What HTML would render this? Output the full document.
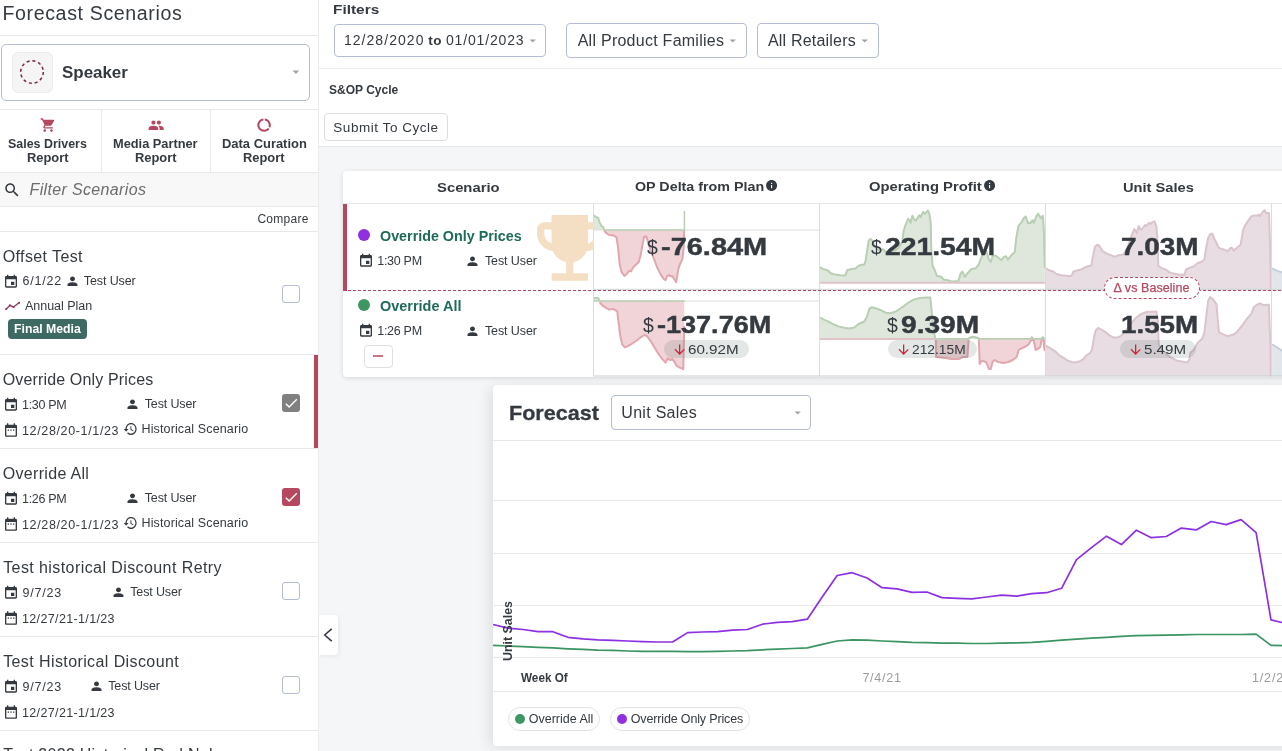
<!DOCTYPE html>
<html><head><meta charset="utf-8"><title>Forecast Scenarios</title>
<style>
html,body{margin:0;padding:0}
body{width:1282px;height:751px;overflow:hidden;position:relative;background:#f5f6f8;font-family:"Liberation Sans",sans-serif;color:#343a40}
.t{position:absolute;white-space:nowrap;line-height:1}
.b{position:absolute;box-sizing:border-box}
svg{position:absolute;overflow:visible}
#wrap{position:absolute;left:0;top:0;width:1282px;height:751px;overflow:hidden;will-change:transform}
</style></head><body><div id="wrap">
<div class="b" style="left:0.00px;top:0.00px;width:318.00px;height:751.00px;background:#fff;"></div>
<div class="b" style="left:318.00px;top:0.00px;width:1.00px;height:751.00px;background:#ebebeb;"></div>
<div class="t" style="left:2.43px;top:4px;font-size:19.6px;color:#343a40;letter-spacing:0.623px;">Forecast Scenarios</div>
<div class="b" style="left:0.00px;top:35.00px;width:318.00px;height:1.00px;background:#e9e9e9;"></div>
<div class="b" style="left:1.00px;top:44.00px;width:309.00px;height:56.50px;border:1px solid #b3bcd2;border-radius:5px;background:#fff;"></div>
<div class="b" style="left:12.00px;top:52.00px;width:41.00px;height:40.50px;border:1px solid #ececec;border-radius:6px;background:#f5f5f5;"></div>
<svg style="left:20px;top:60px" width="24" height="24" viewBox="0 0 24 24"><circle cx="12" cy="12" r="11.3" fill="none" stroke="#7a2840" stroke-width="1.5" stroke-dasharray="3.1 2.82"/></svg>
<div class="t" style="left:62.49px;top:65px;font-size:16px;font-weight:700;color:#343a40;transform:scaleX(1.0579);transform-origin:0 0;">Speaker</div>
<svg style="left:287.68px;top:64.40px" width="15.84" height="15.84" viewBox="0 0 24 24" preserveAspectRatio="none"><path fill="#a4a4a4" d="M7 10l5 5 5-5z"/></svg>
<div class="b" style="left:0.00px;top:109.00px;width:318.00px;height:1.00px;background:#e9e9e9;"></div>
<div class="t" style="left:8.33px;top:138px;font-size:12px;font-weight:700;color:#343a40;transform:scaleX(1.0367);transform-origin:0 0;">Sales Drivers</div>
<div class="t" style="left:26.55px;top:152px;font-size:12px;font-weight:700;color:#343a40;transform:scaleX(1.0748);transform-origin:0 0;">Report</div>
<div class="t" style="left:113.40px;top:138px;font-size:12px;font-weight:700;color:#343a40;transform:scaleX(1.0660);transform-origin:0 0;">Media Partner</div>
<div class="t" style="left:134.85px;top:152px;font-size:12px;font-weight:700;color:#343a40;transform:scaleX(1.0748);transform-origin:0 0;">Report</div>
<div class="t" style="left:221.79px;top:138px;font-size:12px;font-weight:700;color:#343a40;transform:scaleX(1.0783);transform-origin:0 0;">Data Curation</div>
<div class="t" style="left:243.15px;top:152px;font-size:12px;font-weight:700;color:#343a40;transform:scaleX(1.0748);transform-origin:0 0;">Report</div>
<svg style="left:39.82px;top:116.95px" width="16.23" height="16.23" viewBox="0 0 24 24" preserveAspectRatio="none"><path fill="#b5485f" d="M7 18c-1.1 0-1.99.9-1.99 2S5.9 22 7 22s2-.9 2-2-.9-2-2-2zM1 2v2h2l3.6 7.59-1.35 2.45c-.16.28-.25.61-.25.96 0 1.1.9 2 2 2h12v-2H7.42c-.14 0-.25-.11-.25-.25l.03-.12.9-1.63h7.45c.75 0 1.41-.41 1.75-1.03l3.58-6.49c.08-.14.12-.31.12-.48 0-.55-.45-1-1-1H5.21l-.94-2H1zm16 16c-1.1 0-1.99.9-1.99 2s.89 2 1.99 2 2-.9 2-2-.9-2-2-2z"/></svg>
<svg style="left:147.82px;top:117.39px" width="16.36" height="16.36" viewBox="0 0 24 24" preserveAspectRatio="none"><path fill="#b5485f" d="M16 11c1.66 0 2.99-1.34 2.99-3S17.66 5 16 5c-1.66 0-3 1.34-3 3s1.34 3 3 3zm-8 0c1.66 0 2.99-1.34 2.99-3S9.66 5 8 5C6.34 5 5 6.34 5 8s1.34 3 3 3zm0 2c-2.33 0-7 1.17-7 3.5V19h14v-2.5c0-2.33-4.67-3.5-7-3.5zm8 0c-.29 0-.62.02-.97.05 1.16.84 1.97 1.97 1.97 3.45V19h6v-2.5c0-2.33-4.67-3.5-7-3.5z"/></svg>
<svg style="left:256.15px;top:116.95px" width="16.20" height="16.20" viewBox="0 0 24 24" preserveAspectRatio="none"><path fill="#b5485f" d="M13 2.05v3.03c3.39.49 6 3.39 6 6.92 0 .9-.18 1.75-.48 2.54l2.6 1.53c.56-1.24.88-2.62.88-4.07 0-5.18-3.95-9.45-9-9.95zM12 19c-3.87 0-7-3.13-7-7 0-3.53 2.61-6.43 6-6.92V2.05c-5.06.5-9 4.76-9 9.95 0 5.52 4.47 10 9.99 10 3.31 0 6.24-1.61 8.06-4.09l-2.6-1.53C16.17 17.98 14.21 19 12 19z"/></svg>
<div class="b" style="left:101.00px;top:110.00px;width:1.00px;height:62.00px;background:#e9e9e9;"></div>
<div class="b" style="left:210.00px;top:110.00px;width:1.00px;height:62.00px;background:#e9e9e9;"></div>
<div class="b" style="left:0.00px;top:172.00px;width:318.00px;height:35.00px;background:#f8f8f8;border-top:1px solid #e9e9e9;border-bottom:1px solid #e9e9e9;"></div>
<svg style="left:3.14px;top:181.14px" width="18.10" height="18.10" viewBox="0 0 24 24" preserveAspectRatio="none"><path fill="#343a40" d="M15.5 14h-.79l-.28-.27C15.41 12.59 16 11.11 16 9.5 16 5.91 13.09 3 9.5 3S3 5.91 3 9.5 5.91 16 9.5 16c1.61 0 3.09-.59 4.23-1.57l.27.28v.79l5 4.99L20.49 19l-4.99-5zm-6 0C7.01 14 5 11.99 5 9.5S7.01 5 9.5 5 14 7.01 14 9.5 11.99 14 9.5 14z"/></svg>
<div class="t" style="left:29.52px;top:182px;font-size:16px;font-style:italic;color:#6c6c6c;letter-spacing:0.353px;">Filter Scenarios</div>
<div class="t" style="left:257.40px;top:213px;font-size:12px;color:#343a40;letter-spacing:0.293px;">Compare</div>
<div class="b" style="left:0.00px;top:231.00px;width:318.00px;height:1.00px;background:#e9e9e9;"></div>
<div class="t" style="left:2.70px;top:249px;font-size:16px;color:#343a40;letter-spacing:0.396px;">Offset Test</div>
<svg style="left:3.00px;top:274.35px" width="16.00" height="15.60" viewBox="0 0 24 24" preserveAspectRatio="none"><path fill="#343a40" d="M17 12h-5v5h5v-5zM16 1v2H8V1H6v2H5c-1.11 0-1.99.9-1.99 2L3 19c0 1.1.89 2 2 2h14c1.1 0 2-.9 2-2V5c0-1.1-.9-2-2-2h-1V1h-2zm3 18H5V8h14v11z"/></svg>
<div class="t" style="left:22.38px;top:275px;font-size:12.5px;color:#343a40;letter-spacing:0.800px;">6/1/22</div>
<svg style="left:64.50px;top:273.93px" width="15.00" height="14.25" viewBox="0 0 24 24" preserveAspectRatio="none"><path fill="#343a40" d="M12 12c2.21 0 4-1.79 4-4s-1.79-4-4-4-4 1.79-4 4 1.79 4 4 4zm0 2c-2.67 0-8 1.34-8 4v2h16v-2c0-2.66-5.33-4-8-4z"/></svg>
<div class="t" style="left:83.75px;top:275px;font-size:12.5px;color:#343a40;letter-spacing:-0.097px;">Test User</div>
<svg style="left:0;top:0" width="40" height="330" viewBox="0 0 40 330"><polyline points="6.2,309.1 9.9,305.4 13.6,307 19,302.8" fill="none" stroke="#8f3d62" stroke-width="1.4" stroke-linejoin="round" stroke-linecap="round"/><circle cx="6.2" cy="309.1" r="1.1" fill="#8f3d62"/><circle cx="9.9" cy="305.4" r="1.1" fill="#8f3d62"/><circle cx="13.6" cy="307" r="1.1" fill="#8f3d62"/><circle cx="19" cy="302.8" r="1.1" fill="#8f3d62"/></svg>
<div class="t" style="left:25.00px;top:300px;font-size:12.5px;color:#343a40;letter-spacing:-0.022px;">Annual Plan</div>
<div class="b" style="left:8.00px;top:319.00px;width:79.00px;height:20.00px;background:#3d6b63;border-radius:4px;"></div>
<div class="t" style="left:13.64px;top:323px;font-size:12px;font-weight:700;color:#fff;transform:scaleX(1.0223);transform-origin:0 0;">Final Media</div>
<div class="b" style="left:282.00px;top:285.00px;width:18.00px;height:18.00px;border:1px solid #b3bcd2;border-radius:3px;background:#fff;"></div>
<div class="b" style="left:0.00px;top:354.00px;width:318.00px;height:1.00px;background:#e9e9e9;"></div>
<div class="t" style="left:2.70px;top:372px;font-size:16px;color:#343a40;letter-spacing:0.154px;">Override Only Prices</div>
<svg style="left:3.00px;top:397.35px" width="16.00" height="15.60" viewBox="0 0 24 24" preserveAspectRatio="none"><path fill="#343a40" d="M17 12h-5v5h5v-5zM16 1v2H8V1H6v2H5c-1.11 0-1.99.9-1.99 2L3 19c0 1.1.89 2 2 2h14c1.1 0 2-.9 2-2V5c0-1.1-.9-2-2-2h-1V1h-2zm3 18H5V8h14v11z"/></svg>
<div class="t" style="left:22.00px;top:399px;font-size:12.5px;color:#343a40;letter-spacing:-0.300px;">1:30 PM</div>
<svg style="left:125.00px;top:396.93px" width="15.00" height="14.25" viewBox="0 0 24 24" preserveAspectRatio="none"><path fill="#343a40" d="M12 12c2.21 0 4-1.79 4-4s-1.79-4-4-4-4 1.79-4 4 1.79 4 4 4zm0 2c-2.67 0-8 1.34-8 4v2h16v-2c0-2.66-5.33-4-8-4z"/></svg>
<div class="t" style="left:144.75px;top:398px;font-size:12.5px;color:#343a40;letter-spacing:-0.134px;">Test User</div>
<svg style="left:3.00px;top:421.65px" width="16.00" height="16.20" viewBox="0 0 24 24" preserveAspectRatio="none"><path fill="#343a40" d="M9 11H7v2h2v-2zm4 0h-2v2h2v-2zm4 0h-2v2h2v-2zm2-7h-1V2h-2v2H8V2H6v2H5c-1.11 0-1.99.9-1.99 2L3 20c0 1.1.89 2 2 2h14c1.1 0 2-.9 2-2V6c0-1.1-.9-2-2-2zm0 16H5V9h14v11z"/></svg>
<div class="t" style="left:22.00px;top:425px;font-size:12.5px;color:#343a40;letter-spacing:0.643px;">12/28/20-1/1/23</div>
<svg style="left:123.38px;top:421.00px" width="14.86" height="16.00" viewBox="0 0 24 24" preserveAspectRatio="none"><path fill="#343a40" d="M13 3c-4.97 0-9 4.03-9 9H1l3.89 3.89.07.14L9 12H6c0-3.87 3.13-7 7-7s7 3.13 7 7-3.13 7-7 7c-1.93 0-3.68-.79-4.94-2.06l-1.42 1.42C8.27 19.99 10.51 21 13 21c4.97 0 9-4.03 9-9s-4.03-9-9-9zm-1 5v5l4.28 2.54.72-1.21-3.5-2.08V8H12z"/></svg>
<div class="t" style="left:141.50px;top:423px;font-size:12.5px;color:#343a40;letter-spacing:0.132px;">Historical Scenario</div>
<div class="b" style="left:282.00px;top:394.00px;width:18.00px;height:18.00px;border-radius:3px;background:#808080;"></div>
<svg style="left:282.68px;top:394.68px" width="16.36" height="16.36" viewBox="0 0 24 24" preserveAspectRatio="none"><path fill="#fff" d="M9 16.17L4.83 12l-1.42 1.41L9 19 21 7l-1.41-1.41z"/></svg>
<div class="b" style="left:0.00px;top:448.00px;width:318.00px;height:1.00px;background:#e9e9e9;"></div>
<div class="b" style="left:314.00px;top:355.00px;width:4.00px;height:93.00px;background:#b5485f;"></div>
<div class="t" style="left:2.70px;top:466px;font-size:16px;color:#343a40;letter-spacing:0.322px;">Override All</div>
<svg style="left:3.00px;top:491.35px" width="16.00" height="15.60" viewBox="0 0 24 24" preserveAspectRatio="none"><path fill="#343a40" d="M17 12h-5v5h5v-5zM16 1v2H8V1H6v2H5c-1.11 0-1.99.9-1.99 2L3 19c0 1.1.89 2 2 2h14c1.1 0 2-.9 2-2V5c0-1.1-.9-2-2-2h-1V1h-2zm3 18H5V8h14v11z"/></svg>
<div class="t" style="left:22.00px;top:493px;font-size:12.5px;color:#343a40;letter-spacing:-0.300px;">1:26 PM</div>
<svg style="left:125.00px;top:490.93px" width="15.00" height="14.25" viewBox="0 0 24 24" preserveAspectRatio="none"><path fill="#343a40" d="M12 12c2.21 0 4-1.79 4-4s-1.79-4-4-4-4 1.79-4 4 1.79 4 4 4zm0 2c-2.67 0-8 1.34-8 4v2h16v-2c0-2.66-5.33-4-8-4z"/></svg>
<div class="t" style="left:144.75px;top:492px;font-size:12.5px;color:#343a40;letter-spacing:-0.134px;">Test User</div>
<svg style="left:3.00px;top:515.65px" width="16.00" height="16.20" viewBox="0 0 24 24" preserveAspectRatio="none"><path fill="#343a40" d="M9 11H7v2h2v-2zm4 0h-2v2h2v-2zm4 0h-2v2h2v-2zm2-7h-1V2h-2v2H8V2H6v2H5c-1.11 0-1.99.9-1.99 2L3 20c0 1.1.89 2 2 2h14c1.1 0 2-.9 2-2V6c0-1.1-.9-2-2-2zm0 16H5V9h14v11z"/></svg>
<div class="t" style="left:22.00px;top:519px;font-size:12.5px;color:#343a40;letter-spacing:0.643px;">12/28/20-1/1/23</div>
<svg style="left:123.38px;top:515.00px" width="14.86" height="16.00" viewBox="0 0 24 24" preserveAspectRatio="none"><path fill="#343a40" d="M13 3c-4.97 0-9 4.03-9 9H1l3.89 3.89.07.14L9 12H6c0-3.87 3.13-7 7-7s7 3.13 7 7-3.13 7-7 7c-1.93 0-3.68-.79-4.94-2.06l-1.42 1.42C8.27 19.99 10.51 21 13 21c4.97 0 9-4.03 9-9s-4.03-9-9-9zm-1 5v5l4.28 2.54.72-1.21-3.5-2.08V8H12z"/></svg>
<div class="t" style="left:141.50px;top:517px;font-size:12.5px;color:#343a40;letter-spacing:0.132px;">Historical Scenario</div>
<div class="b" style="left:282.00px;top:488.00px;width:18.00px;height:18.00px;border-radius:3px;background:#b5485f;"></div>
<svg style="left:282.68px;top:488.68px" width="16.36" height="16.36" viewBox="0 0 24 24" preserveAspectRatio="none"><path fill="#fff" d="M9 16.17L4.83 12l-1.42 1.41L9 19 21 7l-1.41-1.41z"/></svg>
<div class="b" style="left:0.00px;top:542.00px;width:318.00px;height:1.00px;background:#e9e9e9;"></div>
<div class="t" style="left:3.18px;top:560px;font-size:16px;color:#343a40;letter-spacing:0.417px;">Test historical Discount Retry</div>
<svg style="left:3.00px;top:585.35px" width="16.00" height="15.60" viewBox="0 0 24 24" preserveAspectRatio="none"><path fill="#343a40" d="M17 12h-5v5h5v-5zM16 1v2H8V1H6v2H5c-1.11 0-1.99.9-1.99 2L3 19c0 1.1.89 2 2 2h14c1.1 0 2-.9 2-2V5c0-1.1-.9-2-2-2h-1V1h-2zm3 18H5V8h14v11z"/></svg>
<div class="t" style="left:22.38px;top:587px;font-size:12.5px;color:#343a40;letter-spacing:0.800px;">9/7/23</div>
<svg style="left:110.50px;top:584.92px" width="15.00" height="14.25" viewBox="0 0 24 24" preserveAspectRatio="none"><path fill="#343a40" d="M12 12c2.21 0 4-1.79 4-4s-1.79-4-4-4-4 1.79-4 4 1.79 4 4 4zm0 2c-2.67 0-8 1.34-8 4v2h16v-2c0-2.66-5.33-4-8-4z"/></svg>
<div class="t" style="left:130.25px;top:586px;font-size:12.5px;color:#343a40;letter-spacing:-0.134px;">Test User</div>
<svg style="left:3.00px;top:609.65px" width="16.00" height="16.20" viewBox="0 0 24 24" preserveAspectRatio="none"><path fill="#343a40" d="M9 11H7v2h2v-2zm4 0h-2v2h2v-2zm4 0h-2v2h2v-2zm2-7h-1V2h-2v2H8V2H6v2H5c-1.11 0-1.99.9-1.99 2L3 20c0 1.1.89 2 2 2h14c1.1 0 2-.9 2-2V6c0-1.1-.9-2-2-2zm0 16H5V9h14v11z"/></svg>
<div class="t" style="left:22.00px;top:613px;font-size:12.5px;color:#343a40;letter-spacing:0.357px;">12/27/21-1/1/23</div>
<div class="b" style="left:282.00px;top:582.00px;width:18.00px;height:18.00px;border:1px solid #b3bcd2;border-radius:3px;background:#fff;"></div>
<div class="b" style="left:0.00px;top:636.00px;width:318.00px;height:1.00px;background:#e9e9e9;"></div>
<div class="t" style="left:3.18px;top:654px;font-size:16px;color:#343a40;letter-spacing:0.402px;">Test Historical Discount</div>
<svg style="left:3.00px;top:679.35px" width="16.00" height="15.60" viewBox="0 0 24 24" preserveAspectRatio="none"><path fill="#343a40" d="M17 12h-5v5h5v-5zM16 1v2H8V1H6v2H5c-1.11 0-1.99.9-1.99 2L3 19c0 1.1.89 2 2 2h14c1.1 0 2-.9 2-2V5c0-1.1-.9-2-2-2h-1V1h-2zm3 18H5V8h14v11z"/></svg>
<div class="t" style="left:22.38px;top:681px;font-size:12.5px;color:#343a40;letter-spacing:0.800px;">9/7/23</div>
<svg style="left:88.50px;top:678.92px" width="15.00" height="14.25" viewBox="0 0 24 24" preserveAspectRatio="none"><path fill="#343a40" d="M12 12c2.21 0 4-1.79 4-4s-1.79-4-4-4-4 1.79-4 4 1.79 4 4 4zm0 2c-2.67 0-8 1.34-8 4v2h16v-2c0-2.66-5.33-4-8-4z"/></svg>
<div class="t" style="left:108.25px;top:680px;font-size:12.5px;color:#343a40;letter-spacing:-0.134px;">Test User</div>
<svg style="left:3.00px;top:703.65px" width="16.00" height="16.20" viewBox="0 0 24 24" preserveAspectRatio="none"><path fill="#343a40" d="M9 11H7v2h2v-2zm4 0h-2v2h2v-2zm4 0h-2v2h2v-2zm2-7h-1V2h-2v2H8V2H6v2H5c-1.11 0-1.99.9-1.99 2L3 20c0 1.1.89 2 2 2h14c1.1 0 2-.9 2-2V6c0-1.1-.9-2-2-2zm0 16H5V9h14v11z"/></svg>
<div class="t" style="left:22.00px;top:707px;font-size:12.5px;color:#343a40;letter-spacing:0.357px;">12/27/21-1/1/23</div>
<div class="b" style="left:282.00px;top:676.00px;width:18.00px;height:18.00px;border:1px solid #b3bcd2;border-radius:3px;background:#fff;"></div>
<div class="b" style="left:0.00px;top:730.00px;width:318.00px;height:1.00px;background:#e9e9e9;"></div>
<div class="t" style="left:3.18px;top:747px;font-size:16px;color:#343a40;letter-spacing:0.279px;">Test 2022 Historical Red Nel</div>
<div class="b" style="left:319.00px;top:0.00px;width:963.00px;height:146.50px;background:#fff;border-bottom:1px solid #e6e6e6;"></div>
<div class="t" style="left:333.42px;top:3px;font-size:13.5px;font-weight:700;color:#343a40;transform:scaleX(1.1406);transform-origin:0 0;">Filters</div>
<div class="b" style="left:334.00px;top:24.00px;width:212.00px;height:33.00px;border:1px solid #b3bcd2;border-radius:4px;background:#fff;"></div>
<div class="t" style="left:343.88px;top:33px;font-size:14px;color:#343a40;letter-spacing:1.060px;">12/28/2020</div>
<div class="t" style="left:428.37px;top:34px;font-size:13.5px;font-weight:700;color:#343a40;letter-spacing:0.485px;">to</div>
<div class="t" style="left:445.94px;top:33px;font-size:14px;color:#343a40;letter-spacing:0.847px;">01/01/2023</div>
<svg style="left:524.52px;top:33.10px" width="15.36" height="15.36" viewBox="0 0 24 24" preserveAspectRatio="none"><path fill="#a4a4a4" d="M7 10l5 5 5-5z"/></svg>
<div class="b" style="left:566.00px;top:23.00px;width:181.00px;height:35.00px;border:1px solid #b3bcd2;border-radius:4px;background:#fff;"></div>
<div class="t" style="left:577.70px;top:33px;font-size:16px;color:#343a40;letter-spacing:0.258px;">All Product Families</div>
<svg style="left:725.02px;top:33.10px" width="15.36" height="15.36" viewBox="0 0 24 24" preserveAspectRatio="none"><path fill="#a4a4a4" d="M7 10l5 5 5-5z"/></svg>
<div class="b" style="left:757.00px;top:23.00px;width:122.00px;height:35.00px;border:1px solid #b3bcd2;border-radius:4px;background:#fff;"></div>
<div class="t" style="left:768.00px;top:33px;font-size:16px;color:#343a40;letter-spacing:0.197px;">All Retailers</div>
<svg style="left:857.02px;top:33.10px" width="15.36" height="15.36" viewBox="0 0 24 24" preserveAspectRatio="none"><path fill="#a4a4a4" d="M7 10l5 5 5-5z"/></svg>
<div class="b" style="left:319.00px;top:68.00px;width:963.00px;height:1.00px;background:#ececec;"></div>
<div class="t" style="left:328.64px;top:84px;font-size:12px;font-weight:700;color:#343a40;transform:scaleX(1.0015);transform-origin:0 0;">S&amp;OP Cycle</div>
<div class="b" style="left:324.00px;top:113.00px;width:124.00px;height:28.00px;border:1px solid #dedede;border-radius:4px;background:#fff;"></div>
<div class="t" style="left:333.32px;top:121px;font-size:13.5px;color:#343a40;letter-spacing:0.537px;">Submit To Cycle</div>
<div class="b" style="left:319.00px;top:614.50px;width:18.50px;height:40.50px;background:#fff;border-radius:0 4px 4px 0;box-shadow:1px 1px 4px rgba(0,0,0,0.07);"></div>
<svg style="left:0;top:0" width="400" height="751" viewBox="0 0 400 751"><polyline points="331.7,628.9 324.7,635 331.7,641.1" fill="none" stroke="#343a40" stroke-width="1.5"/></svg>
<div class="b" style="left:343.00px;top:171.00px;width:960.00px;height:205.50px;background:#fff;border-radius:4px;box-shadow:0 1px 5px rgba(0,0,0,0.13);"></div>
<div class="b" style="left:343.00px;top:203.00px;width:939.00px;height:1.00px;background:#e6e6e6;"></div>
<svg style="left:0;top:0" width="1282" height="751" viewBox="0 0 1282 751"><line x1="594" y1="230" x2="819.5" y2="230" stroke="#dedede" stroke-width="1"/><polygon points="593.5,230.0 593.5,215.2 596.1,217.1 598.2,217.7 599.5,222.1 601.4,225.9 603.3,227.2 604.2,230.0 604.2,230.0" fill="#dfe7dc"/><polyline points="593.5,215.2 596.1,217.1 598.2,217.7 599.5,222.1 601.4,225.9 603.3,227.2 604.2,230.0" fill="none" stroke="#b9cfb4" stroke-width="2" stroke-linejoin="round"/><polygon points="603.9,230.0 603.9,230.3 606.4,233.1 609.0,234.8 613.4,235.4 616.6,237.3 618.4,250.6 619.7,264.5 621.6,272.1 624.4,275.9 626.7,274.0 629.2,270.8 631.1,271.4 633.0,267.6 636.1,264.5 638.7,262.0 640.6,255.6 642.5,244.9 644.1,236.7 646.3,236.4 647.5,240.5 650.1,249.3 653.2,256.9 657.0,267.0 660.8,274.6 663.3,278.4 665.6,280.3 667.1,275.9 669.0,275.2 670.9,276.5 672.2,275.9 674.1,279.0 676.2,282.2 677.2,275.9 678.5,268.3 680.4,263.2 682.3,259.4 683.6,248.0 684.2,230.3 684.2,230.0" fill="#f1d4d8"/><polyline points="603.9,230.3 606.4,233.1 609.0,234.8 613.4,235.4 616.6,237.3 618.4,250.6 619.7,264.5 621.6,272.1 624.4,275.9 626.7,274.0 629.2,270.8 631.1,271.4 633.0,267.6 636.1,264.5 638.7,262.0 640.6,255.6 642.5,244.9 644.1,236.7 646.3,236.4 647.5,240.5 650.1,249.3 653.2,256.9 657.0,267.0 660.8,274.6 663.3,278.4 665.6,280.3 667.1,275.9 669.0,275.2 670.9,276.5 672.2,275.9 674.1,279.0 676.2,282.2 677.2,275.9 678.5,268.3 680.4,263.2 682.3,259.4 683.6,248.0 684.2,230.3" fill="none" stroke="#e0a7af" stroke-width="2" stroke-linejoin="round"/><polyline points="604,230 684.4,230 684.4,211" fill="none" stroke="#b9cfb4" stroke-width="1.5"/><line x1="594" y1="301" x2="819.5" y2="301" stroke="#dedede" stroke-width="1"/><polygon points="593.5,301.0 593.5,297.9 598.2,297.9 599.5,300.6 599.5,301.0" fill="#dfe7dc"/><polyline points="593.5,297.9 598.2,297.9 599.5,300.6" fill="none" stroke="#b9cfb4" stroke-width="2" stroke-linejoin="round"/><polygon points="599.5,301.0 599.5,302.2 602.6,305.7 606.4,308.2 609.0,309.5 613.4,308.9 617.2,311.4 618.4,320.9 620.3,336.0 622.2,344.3 624.8,347.4 627.3,346.4 630.5,344.6 633.0,343.0 636.8,340.5 640.6,337.3 644.4,335.0 646.9,336.0 650.7,341.1 654.5,347.4 658.3,353.7 662.1,358.8 665.6,362.6 667.8,358.2 670.3,360.1 672.2,358.8 674.1,361.3 676.6,365.8 680.4,367.9 683.3,369.2 684.2,325.9 684.2,301.0" fill="#f1d4d8"/><polyline points="599.5,302.2 602.6,305.7 606.4,308.2 609.0,309.5 613.4,308.9 617.2,311.4 618.4,320.9 620.3,336.0 622.2,344.3 624.8,347.4 627.3,346.4 630.5,344.6 633.0,343.0 636.8,340.5 640.6,337.3 644.4,335.0 646.9,336.0 650.7,341.1 654.5,347.4 658.3,353.7 662.1,358.8 665.6,362.6 667.8,358.2 670.3,360.1 672.2,358.8 674.1,361.3 676.6,365.8 680.4,367.9 683.3,369.2 684.2,325.9" fill="none" stroke="#e0a7af" stroke-width="2" stroke-linejoin="round"/><line x1="594" y1="301" x2="684.8" y2="301" stroke="#b9cfb4" stroke-width="1.6"/><polygon points="820.1,282.8 820.1,267.0 822.6,268.9 827.6,270.2 830.8,273.3 835.2,274.6 840.3,275.2 845.3,275.5 847.2,270.2 850.4,269.3 855.5,268.5 858.6,265.8 861.8,264.7 864.3,264.5 865.6,260.7 867.5,248.1 868.7,240.5 870.6,238.9 872.5,241.1 875.1,246.8 878.2,249.6 880.8,249.9 883.3,249.3 885.2,251.8 888.3,252.5 893.4,251.2 898.5,248.1 902.3,241.7 903.5,231.6 905.4,225.3 907.9,219.0 909.2,219.6 910.5,222.8 912.4,215.8 914.3,219.6 915.5,220.9 917.4,218.3 919.3,215.2 920.6,217.1 923.1,212.0 925.0,213.9 927.9,210.5 929.4,213.9 930.7,222.8 931.3,250.6 932.6,265.8 934.5,269.6 937.0,275.9 940.8,276.5 944.0,279.7 947.8,280.3 952.2,281.6 958.5,281.0 960.4,274.0 962.3,271.5 964.9,276.9 968.0,272.7 971.2,269.3 975.6,268.3 978.8,264.5 981.3,257.6 983.8,252.5 986.4,251.2 988.9,259.5 990.8,262.0 992.7,255.7 995.9,255.7 999.0,258.2 1001.5,260.1 1004.1,256.9 1006.0,256.3 1007.9,259.5 1011.0,255.7 1014.8,251.9 1016.1,239.2 1018.4,225.9 1021.2,222.8 1023.7,218.3 1025.6,216.4 1028.1,223.4 1030.6,222.8 1032.5,220.2 1033.8,222.8 1036.3,216.4 1038.2,213.7 1040.8,218.3 1042.9,215.8 1043.9,231.6 1044.8,268.3 1044.8,282.8" fill="#dfe7dc"/><polyline points="820.1,267.0 822.6,268.9 827.6,270.2 830.8,273.3 835.2,274.6 840.3,275.2 845.3,275.5 847.2,270.2 850.4,269.3 855.5,268.5 858.6,265.8 861.8,264.7 864.3,264.5 865.6,260.7 867.5,248.1 868.7,240.5 870.6,238.9 872.5,241.1 875.1,246.8 878.2,249.6 880.8,249.9 883.3,249.3 885.2,251.8 888.3,252.5 893.4,251.2 898.5,248.1 902.3,241.7 903.5,231.6 905.4,225.3 907.9,219.0 909.2,219.6 910.5,222.8 912.4,215.8 914.3,219.6 915.5,220.9 917.4,218.3 919.3,215.2 920.6,217.1 923.1,212.0 925.0,213.9 927.9,210.5 929.4,213.9 930.7,222.8 931.3,250.6 932.6,265.8 934.5,269.6 937.0,275.9 940.8,276.5 944.0,279.7 947.8,280.3 952.2,281.6 958.5,281.0 960.4,274.0 962.3,271.5 964.9,276.9 968.0,272.7 971.2,269.3 975.6,268.3 978.8,264.5 981.3,257.6 983.8,252.5 986.4,251.2 988.9,259.5 990.8,262.0 992.7,255.7 995.9,255.7 999.0,258.2 1001.5,260.1 1004.1,256.9 1006.0,256.3 1007.9,259.5 1011.0,255.7 1014.8,251.9 1016.1,239.2 1018.4,225.9 1021.2,222.8 1023.7,218.3 1025.6,216.4 1028.1,223.4 1030.6,222.8 1032.5,220.2 1033.8,222.8 1036.3,216.4 1038.2,213.7 1040.8,218.3 1042.9,215.8 1043.9,231.6 1044.8,268.3" fill="none" stroke="#b9cfb4" stroke-width="2" stroke-linejoin="round"/><line x1="820" y1="282.8" x2="1045" y2="282.8" stroke="#e0c3c9" stroke-width="2"/><polygon points="820.1,338.9 820.1,317.7 823.9,319.6 827.6,321.1 832.7,324.0 839.0,326.6 844.1,327.8 849.1,328.5 854.2,327.5 858.6,324.0 864.3,321.5 866.8,317.1 869.4,308.9 871.9,307.2 875.7,308.2 880.8,310.1 885.8,312.7 889.6,313.3 894.7,312.0 898.5,309.8 903.5,306.3 908.6,302.5 913.6,299.6 920.0,297.9 926.3,297.6 930.3,297.6 931.3,307.0 932.8,323.4 935.1,338.0 935.8,338.9 968.6,338.9 969.3,338.0 973.1,336.7 978.1,338.0 978.8,338.9 1030.6,338.9 1031.9,337.3 1033.2,338.9 1041.4,338.9 1042.9,337.3 1044.6,338.9 1044.6,338.9" fill="#dfe7dc"/><polyline points="820.1,317.7 823.9,319.6 827.6,321.1 832.7,324.0 839.0,326.6 844.1,327.8 849.1,328.5 854.2,327.5 858.6,324.0 864.3,321.5 866.8,317.1 869.4,308.9 871.9,307.2 875.7,308.2 880.8,310.1 885.8,312.7 889.6,313.3 894.7,312.0 898.5,309.8 903.5,306.3 908.6,302.5 913.6,299.6 920.0,297.9 926.3,297.6 930.3,297.6 931.3,307.0 932.8,323.4 935.1,338.0 935.8,338.9 968.6,338.9 969.3,338.0 973.1,336.7 978.1,338.0 978.8,338.9 1030.6,338.9 1031.9,337.3 1033.2,338.9 1041.4,338.9 1042.9,337.3 1044.6,338.9" fill="none" stroke="#b9cfb4" stroke-width="2" stroke-linejoin="round"/><polygon points="935.8,338.9 935.8,339.9 936.1,357.0 941.4,357.6 946.5,358.2 951.6,359.1 959.2,358.9 963.0,357.0 967.4,357.0 968.6,339.9 968.6,338.9" fill="#f1d4d8"/><polyline points="935.8,339.9 936.1,357.0 941.4,357.6 946.5,358.2 951.6,359.1 959.2,358.9 963.0,357.0 967.4,357.0 968.6,339.9" fill="none" stroke="#e0a7af" stroke-width="2" stroke-linejoin="round"/><polygon points="978.8,338.9 978.8,339.9 979.7,363.9 981.9,360.7 984.5,361.4 986.4,362.6 988.9,369.0 990.8,369.0 992.7,361.4 994.6,360.1 998.4,362.0 1003.4,362.9 1008.5,362.0 1013.6,359.5 1016.7,357.0 1018.6,350.0 1021.2,348.5 1024.9,346.8 1028.7,344.3 1030.6,341.1 1031.9,339.9 1033.8,340.1 1035.7,350.0 1038.2,348.7 1040.4,346.8 1041.4,340.1 1043.3,340.1 1044.6,350.0 1044.8,339.9 1044.8,338.9" fill="#f1d4d8"/><polyline points="978.8,339.9 979.7,363.9 981.9,360.7 984.5,361.4 986.4,362.6 988.9,369.0 990.8,369.0 992.7,361.4 994.6,360.1 998.4,362.0 1003.4,362.9 1008.5,362.0 1013.6,359.5 1016.7,357.0 1018.6,350.0 1021.2,348.5 1024.9,346.8 1028.7,344.3 1030.6,341.1 1031.9,339.9 1033.8,340.1 1035.7,350.0 1038.2,348.7 1040.4,346.8 1041.4,340.1 1043.3,340.1 1044.6,350.0 1044.8,339.9" fill="none" stroke="#e0a7af" stroke-width="2" stroke-linejoin="round"/><line x1="820" y1="338.9" x2="936" y2="338.9" stroke="#e0c3c9" stroke-width="2"/><polyline points="935.8,338.9 968.6,338.9 969.3,338.0 973.1,336.7 978.1,338.0 978.8,338.9 1030.6,338.9 1031.9,337.3 1033.2,338.9 1041.4,338.9 1042.9,337.3 1044.6,338.9" fill="none" stroke="#b9cfb4" stroke-width="1.5"/><polygon points="1045.7,290.5 1045.7,268.3 1048.9,270.2 1053.3,271.5 1056.4,274.0 1061.5,275.3 1066.6,275.7 1071.6,275.9 1073.5,271.5 1076.7,270.6 1081.1,269.6 1084.3,267.7 1088.7,266.0 1091.2,265.8 1093.1,255.7 1095.0,246.8 1097.6,244.5 1099.5,246.2 1102.0,250.6 1105.8,253.1 1109.6,254.7 1114.6,256.7 1119.7,255.0 1123.5,254.4 1127.3,248.1 1131.7,235.4 1134.3,229.1 1135.5,230.4 1136.8,233.1 1138.7,225.9 1140.6,229.7 1142.5,228.5 1145.0,225.1 1146.3,225.9 1149.1,222.8 1150.7,223.8 1152.6,222.1 1154.5,221.3 1156.4,226.6 1157.7,243.0 1158.3,265.8 1161.5,268.3 1162.1,268.3 1165.9,269.6 1169.0,272.1 1173.4,273.4 1178.5,274.4 1184.2,274.9 1186.1,269.3 1189.9,267.7 1193.7,266.4 1197.5,263.3 1201.9,261.7 1204.4,259.5 1206.3,246.8 1208.2,238.0 1210.1,234.2 1212.4,233.5 1213.9,238.0 1216.5,243.0 1219.0,248.1 1222.8,249.3 1227.9,251.2 1230.4,248.1 1231.9,247.8 1233.5,250.6 1236.7,248.1 1240.5,244.9 1241.8,238.0 1243.0,230.4 1244.9,225.9 1248.1,220.9 1251.3,216.4 1254.4,215.4 1256.9,215.8 1258.8,214.5 1260.1,216.2 1262.6,212.0 1264.5,210.1 1266.4,213.3 1269.0,213.0 1269.6,231.6 1270.5,263.3 1270.9,290.5 1270.9,290.5" fill="#e8dde3"/><polyline points="1045.7,268.3 1048.9,270.2 1053.3,271.5 1056.4,274.0 1061.5,275.3 1066.6,275.7 1071.6,275.9 1073.5,271.5 1076.7,270.6 1081.1,269.6 1084.3,267.7 1088.7,266.0 1091.2,265.8 1093.1,255.7 1095.0,246.8 1097.6,244.5 1099.5,246.2 1102.0,250.6 1105.8,253.1 1109.6,254.7 1114.6,256.7 1119.7,255.0 1123.5,254.4 1127.3,248.1 1131.7,235.4 1134.3,229.1 1135.5,230.4 1136.8,233.1 1138.7,225.9 1140.6,229.7 1142.5,228.5 1145.0,225.1 1146.3,225.9 1149.1,222.8 1150.7,223.8 1152.6,222.1 1154.5,221.3 1156.4,226.6 1157.7,243.0 1158.3,265.8 1161.5,268.3 1162.1,268.3 1165.9,269.6 1169.0,272.1 1173.4,273.4 1178.5,274.4 1184.2,274.9 1186.1,269.3 1189.9,267.7 1193.7,266.4 1197.5,263.3 1201.9,261.7 1204.4,259.5 1206.3,246.8 1208.2,238.0 1210.1,234.2 1212.4,233.5 1213.9,238.0 1216.5,243.0 1219.0,248.1 1222.8,249.3 1227.9,251.2 1230.4,248.1 1231.9,247.8 1233.5,250.6 1236.7,248.1 1240.5,244.9 1241.8,238.0 1243.0,230.4 1244.9,225.9 1248.1,220.9 1251.3,216.4 1254.4,215.4 1256.9,215.8 1258.8,214.5 1260.1,216.2 1262.6,212.0 1264.5,210.1 1266.4,213.3 1269.0,213.0 1269.6,231.6 1270.5,263.3 1270.9,290.5" fill="none" stroke="#dac4cd" stroke-width="2" stroke-linejoin="round"/><polygon points="1045.7,376.3 1045.7,345.6 1050.1,348.1 1055.2,351.3 1059.0,355.1 1064.0,358.2 1067.8,360.7 1074.2,362.6 1079.2,361.6 1083.0,359.5 1086.2,355.7 1090.0,353.2 1091.9,350.0 1093.8,338.6 1095.7,330.4 1098.2,327.9 1102.0,329.8 1105.8,332.3 1109.6,335.4 1113.4,337.6 1117.2,337.6 1121.0,335.8 1124.1,332.9 1127.3,328.5 1131.1,323.4 1136.2,317.7 1141.2,313.9 1147.5,311.8 1153.9,311.8 1156.4,311.4 1157.7,319.6 1158.7,344.9 1163.3,351.3 1169.7,357.0 1177.2,360.7 1187.4,362.6 1189.3,359.5 1190.5,352.5 1193.7,350.0 1197.5,343.0 1202.5,338.6 1204.4,332.3 1206.3,315.8 1208.2,300.7 1210.1,297.1 1212.7,298.8 1216.5,304.4 1217.7,319.6 1219.0,332.3 1222.8,334.2 1227.9,336.3 1232.9,334.8 1236.7,332.3 1241.8,326.0 1246.8,319.0 1251.3,313.9 1253.8,307.0 1256.9,304.7 1260.1,303.4 1263.3,305.1 1269.0,304.7 1269.6,326.0 1270.5,344.9 1270.9,376.2 1270.9,376.3" fill="#e8dde3"/><polyline points="1045.7,345.6 1050.1,348.1 1055.2,351.3 1059.0,355.1 1064.0,358.2 1067.8,360.7 1074.2,362.6 1079.2,361.6 1083.0,359.5 1086.2,355.7 1090.0,353.2 1091.9,350.0 1093.8,338.6 1095.7,330.4 1098.2,327.9 1102.0,329.8 1105.8,332.3 1109.6,335.4 1113.4,337.6 1117.2,337.6 1121.0,335.8 1124.1,332.9 1127.3,328.5 1131.1,323.4 1136.2,317.7 1141.2,313.9 1147.5,311.8 1153.9,311.8 1156.4,311.4 1157.7,319.6 1158.7,344.9 1163.3,351.3 1169.7,357.0 1177.2,360.7 1187.4,362.6 1189.3,359.5 1190.5,352.5 1193.7,350.0 1197.5,343.0 1202.5,338.6 1204.4,332.3 1206.3,315.8 1208.2,300.7 1210.1,297.1 1212.7,298.8 1216.5,304.4 1217.7,319.6 1219.0,332.3 1222.8,334.2 1227.9,336.3 1232.9,334.8 1236.7,332.3 1241.8,326.0 1246.8,319.0 1251.3,313.9 1253.8,307.0 1256.9,304.7 1260.1,303.4 1263.3,305.1 1269.0,304.7 1269.6,326.0 1270.5,344.9 1270.9,376.2" fill="none" stroke="#dac4cd" stroke-width="2" stroke-linejoin="round"/><polygon points="1272.1,290.5 1272.1,268.3 1277.2,270.9 1283.5,272.7 1283.5,290.5" fill="#e1e6ec"/><polyline points="1272.1,268.3 1277.2,270.9 1283.5,272.7" fill="none" stroke="#c6d0dc" stroke-width="2" stroke-linejoin="round"/><polygon points="1272.1,376.3 1272.1,344.3 1277.2,347.5 1283.5,351.9 1283.5,376.3" fill="#e1e6ec"/><polyline points="1272.1,344.3 1277.2,347.5 1283.5,351.9" fill="none" stroke="#c6d0dc" stroke-width="2" stroke-linejoin="round"/><line x1="593.5" y1="203.5" x2="593.5" y2="376.5" stroke="#dcdcdc" stroke-width="1"/><line x1="819.5" y1="203.5" x2="819.5" y2="376.5" stroke="#dcdcdc" stroke-width="1"/><line x1="1045.5" y1="203.5" x2="1045.5" y2="376.5" stroke="#dcdcdc" stroke-width="1"/><line x1="1271.5" y1="203.5" x2="1271.5" y2="376.5" stroke="#dcdcdc" stroke-width="1"/><line x1="594" y1="289.3" x2="1282" y2="289.3" stroke="#cbd6d2" stroke-width="1"/><line x1="594" y1="376" x2="1282" y2="376" stroke="#c9d3d1" stroke-width="1"/><line x1="343" y1="290.5" x2="1282" y2="290.5" stroke="#b5485f" stroke-width="1" stroke-dasharray="3 2"/></svg>
<div class="b" style="left:343.00px;top:203.50px;width:4.00px;height:87.00px;background:#b5485f;"></div>
<div class="t" style="left:437.06px;top:181px;font-size:13.5px;font-weight:700;color:#343a40;transform:scaleX(1.0977);transform-origin:0 0;">Scenario</div>
<div class="t" style="left:634.83px;top:180px;font-size:13.5px;font-weight:700;color:#343a40;transform:scaleX(1.0589);transform-origin:0 0;">OP Delta from Plan</div>
<svg style="left:764.90px;top:178.90px" width="13.20" height="13.20" viewBox="0 0 24 24" preserveAspectRatio="none"><path fill="#343a40" d="M12 2C6.48 2 2 6.48 2 12s4.48 10 10 10 10-4.48 10-10S17.52 2 12 2zm1 15h-2v-6h2v6zm0-8h-2V7h2v2z"/></svg>
<div class="t" style="left:868.91px;top:180px;font-size:13.5px;font-weight:700;color:#343a40;transform:scaleX(1.0974);transform-origin:0 0;">Operating Profit</div>
<svg style="left:982.60px;top:178.90px" width="13.20" height="13.20" viewBox="0 0 24 24" preserveAspectRatio="none"><path fill="#343a40" d="M12 2C6.48 2 2 6.48 2 12s4.48 10 10 10 10-4.48 10-10S17.52 2 12 2zm1 15h-2v-6h2v6zm0-8h-2V7h2v2z"/></svg>
<div class="t" style="left:1122.82px;top:181px;font-size:13.5px;font-weight:700;color:#343a40;transform:scaleX(1.0861);transform-origin:0 0;">Unit Sales</div>
<div class="b" style="left:358.00px;top:229.30px;width:12.00px;height:12.00px;background:#8f2fe0;border-radius:50%;"></div>
<div class="t" style="left:379.83px;top:229px;font-size:14px;font-weight:700;color:#1f6b5b;transform:scaleX(1.0227);transform-origin:0 0;">Override Only Prices</div>
<svg style="left:357.50px;top:253.05px" width="16.00" height="15.60" viewBox="0 0 24 24" preserveAspectRatio="none"><path fill="#343a40" d="M17 12h-5v5h5v-5zM16 1v2H8V1H6v2H5c-1.11 0-1.99.9-1.99 2L3 19c0 1.1.89 2 2 2h14c1.1 0 2-.9 2-2V5c0-1.1-.9-2-2-2h-1V1h-2zm3 18H5V8h14v11z"/></svg>
<div class="t" style="left:377.30px;top:255px;font-size:12.5px;color:#343a40;letter-spacing:-0.300px;">1:30 PM</div>
<svg style="left:465.20px;top:253.62px" width="15.00" height="14.25" viewBox="0 0 24 24" preserveAspectRatio="none"><path fill="#343a40" d="M12 12c2.21 0 4-1.79 4-4s-1.79-4-4-4-4 1.79-4 4 1.79 4 4 4zm0 2c-2.67 0-8 1.34-8 4v2h16v-2c0-2.66-5.33-4-8-4z"/></svg>
<div class="t" style="left:484.95px;top:255px;font-size:12.5px;color:#343a40;letter-spacing:-0.097px;">Test User</div>
<div class="b" style="left:358.00px;top:299.00px;width:12.00px;height:12.00px;background:#3e9763;border-radius:50%;"></div>
<div class="t" style="left:379.82px;top:299px;font-size:14px;font-weight:700;color:#1f6b5b;transform:scaleX(1.0326);transform-origin:0 0;">Override All</div>
<svg style="left:357.50px;top:323.35px" width="16.00" height="15.60" viewBox="0 0 24 24" preserveAspectRatio="none"><path fill="#343a40" d="M17 12h-5v5h5v-5zM16 1v2H8V1H6v2H5c-1.11 0-1.99.9-1.99 2L3 19c0 1.1.89 2 2 2h14c1.1 0 2-.9 2-2V5c0-1.1-.9-2-2-2h-1V1h-2zm3 18H5V8h14v11z"/></svg>
<div class="t" style="left:377.30px;top:325px;font-size:12.5px;color:#343a40;letter-spacing:-0.300px;">1:26 PM</div>
<svg style="left:465.20px;top:323.62px" width="15.00" height="14.25" viewBox="0 0 24 24" preserveAspectRatio="none"><path fill="#343a40" d="M12 12c2.21 0 4-1.79 4-4s-1.79-4-4-4-4 1.79-4 4 1.79 4 4 4zm0 2c-2.67 0-8 1.34-8 4v2h16v-2c0-2.66-5.33-4-8-4z"/></svg>
<div class="t" style="left:484.95px;top:325px;font-size:12.5px;color:#343a40;letter-spacing:-0.097px;">Test User</div>
<div class="b" style="left:363.50px;top:344.50px;width:29.00px;height:23.00px;border:1px solid #e0e0e0;border-radius:4px;background:#fff;"></div>
<div class="b" style="left:373.00px;top:355.20px;width:9.70px;height:1.60px;background:#cc7486;"></div>
<div class="b" style="left:520px;top:204px;width:73.5px;height:86px;overflow:hidden"><svg style="left:5.95px;top:0.1px" width="87.6" height="87.6" viewBox="0 0 24 24"><path fill="#f5dfc4" d="M19 5h-2V3H7v2H5c-1.1 0-2 .9-2 2v1c0 2.55 1.92 4.63 4.39 4.94.63 1.5 1.98 2.63 3.61 2.96V19H7v2h10v-2h-4v-3.100c1.630-.330 2.980-1.460 3.610-2.960C19.080 12.630 21 10.550 21 8V7c0-1.100-.900-2-2-2zM5 8V7h2v3.820C5.840 10.400 5 9.300 5 8zm14 0c0 1.300-.840 2.400-2 2.820V7h2v1z"/></svg></div>
<div class="t" style="left:646.61px;top:236px;font-size:21px;color:#343a40;transform:scaleX(0.9254);transform-origin:0 0;">$</div>
<div class="t" style="left:660.94px;top:235px;font-size:24px;font-weight:700;color:#343a40;transform:scaleX(1.2068);transform-origin:0 0;-webkit-text-stroke:0.45px #343a40;">-76.84M</div>
<div class="t" style="left:642.51px;top:314px;font-size:21px;color:#343a40;transform:scaleX(0.9254);transform-origin:0 0;">$</div>
<div class="t" style="left:656.72px;top:313px;font-size:24px;font-weight:700;color:#343a40;transform:scaleX(1.1266);transform-origin:0 0;-webkit-text-stroke:0.45px #343a40;">-137.76M</div>
<div class="t" style="left:871.31px;top:236px;font-size:21px;color:#343a40;transform:scaleX(0.9254);transform-origin:0 0;">$</div>
<div class="t" style="left:885.05px;top:235px;font-size:24px;font-weight:700;color:#343a40;transform:scaleX(1.1798);transform-origin:0 0;-webkit-text-stroke:0.45px #343a40;">221.54M</div>
<div class="t" style="left:886.81px;top:314px;font-size:21px;color:#343a40;transform:scaleX(0.9254);transform-origin:0 0;">$</div>
<div class="t" style="left:900.96px;top:313px;font-size:24px;font-weight:700;color:#343a40;transform:scaleX(1.1710);transform-origin:0 0;-webkit-text-stroke:0.45px #343a40;">9.39M</div>
<div class="t" style="left:1121.49px;top:235px;font-size:24px;font-weight:700;color:#343a40;transform:scaleX(1.1614);transform-origin:0 0;-webkit-text-stroke:0.45px #343a40;">7.03M</div>
<div class="t" style="left:1120.94px;top:313px;font-size:24px;font-weight:700;color:#343a40;transform:scaleX(1.1560);transform-origin:0 0;-webkit-text-stroke:0.45px #343a40;">1.55M</div>
<div class="b" style="left:664.00px;top:340.30px;width:84.60px;height:17.70px;background:rgba(70,95,90,0.15);border-radius:9px;"></div>
<svg style="left:672.15px;top:341.80px" width="15.30" height="15.60" viewBox="0 0 24 24" preserveAspectRatio="none"><path fill="#cf2038" d="M20 12l-1.41-1.41L13 16.17V4h-2v12.17l-5.58-5.59L4 12l8 8 8-8z"/></svg>
<div class="t" style="left:687.74px;top:343px;font-size:13.5px;color:#343a40;transform:scaleX(1.1227);transform-origin:0 0;">60.92M</div>
<div class="b" style="left:888.30px;top:340.30px;width:88.30px;height:17.70px;background:rgba(70,95,90,0.15);border-radius:9px;"></div>
<svg style="left:896.15px;top:341.80px" width="15.30" height="15.60" viewBox="0 0 24 24" preserveAspectRatio="none"><path fill="#cf2038" d="M20 12l-1.41-1.41L13 16.17V4h-2v12.17l-5.58-5.59L4 12l8 8 8-8z"/></svg>
<div class="t" style="left:911.91px;top:343px;font-size:13.5px;color:#343a40;transform:scaleX(1.0225);transform-origin:0 0;">212.15M</div>
<div class="b" style="left:1120.00px;top:340.30px;width:76.20px;height:17.70px;background:rgba(70,95,90,0.15);border-radius:9px;"></div>
<svg style="left:1128.15px;top:341.80px" width="15.30" height="15.60" viewBox="0 0 24 24" preserveAspectRatio="none"><path fill="#cf2038" d="M20 12l-1.41-1.41L13 16.17V4h-2v12.17l-5.58-5.59L4 12l8 8 8-8z"/></svg>
<div class="t" style="left:1143.60px;top:343px;font-size:13.5px;color:#343a40;transform:scaleX(1.1195);transform-origin:0 0;">5.49M</div>
<div class="b" style="left:1103.50px;top:277.00px;width:96.50px;height:22.00px;border:1px dashed #b5485f;border-radius:11px;background:#fff;"></div>
<div class="t" style="left:1113.62px;top:282px;font-size:12.5px;color:#b5485f;letter-spacing:0.056px;-webkit-text-stroke:0.25px #b5485f;">Δ vs Baseline</div>
<div class="b" style="left:493.00px;top:385.00px;width:800.00px;height:361.00px;background:#fff;border-radius:4px 0 0 4px;box-shadow:-3px 2px 14px rgba(0,0,0,0.10);"></div>
<div class="t" style="left:509.49px;top:403px;font-size:20.5px;font-weight:700;color:#343a40;transform:scaleX(1.0531);transform-origin:0 0;-webkit-text-stroke:0.3px #343a40;">Forecast</div>
<div class="b" style="left:611.00px;top:395.00px;width:200.00px;height:35.00px;border:1px solid #b3bcd2;border-radius:4px;background:#fff;"></div>
<div class="t" style="left:621.32px;top:405px;font-size:16px;color:#343a40;letter-spacing:0.284px;">Unit Sales</div>
<svg style="left:790.02px;top:405.10px" width="15.36" height="15.36" viewBox="0 0 24 24" preserveAspectRatio="none"><path fill="#a4a4a4" d="M7 10l5 5 5-5z"/></svg>
<div class="b" style="left:493.00px;top:440.00px;width:789.00px;height:1.00px;background:#e8e8e8;"></div>
<div class="b" style="left:493.00px;top:500.00px;width:789.00px;height:1.00px;background:#e8e8e8;"></div>
<div class="b" style="left:493.00px;top:553.00px;width:789.00px;height:1.00px;background:#e8e8e8;"></div>
<div class="b" style="left:493.00px;top:605.00px;width:789.00px;height:1.00px;background:#e8e8e8;"></div>
<div class="b" style="left:493.00px;top:657.00px;width:789.00px;height:1.00px;background:#e8e8e8;"></div>
<div class="b" style="left:493.00px;top:691.00px;width:789.00px;height:1.00px;background:#e8e8e8;"></div>
<svg style="left:0;top:0" width="1282" height="751" viewBox="0 0 1282 751"><polyline points="493.1,645.4 508.1,646.0 523.0,646.6 538.0,647.3 552.9,647.9 567.9,648.8 582.9,649.4 597.8,650.1 612.8,650.4 627.7,651.0 642.7,651.3 657.7,651.3 672.6,651.3 687.6,651.6 702.5,651.6 717.5,651.3 732.5,651.0 747.4,650.7 762.4,649.8 777.3,649.1 792.3,648.5 807.3,647.9 822.2,644.4 837.2,641.0 852.1,639.8 867.1,640.1 882.1,641.0 897.0,641.6 912.0,642.3 926.9,642.6 941.9,643.2 956.9,643.2 971.8,643.5 986.8,643.5 1001.7,643.2 1016.7,642.9 1031.7,642.3 1046.6,641.3 1061.6,640.1 1076.5,639.1 1091.5,638.2 1106.5,637.3 1121.4,636.3 1136.4,635.7 1151.3,635.4 1166.3,635.1 1181.3,634.8 1196.2,634.5 1211.2,634.5 1226.1,634.5 1241.1,634.5 1256.1,634.1 1271.0,645.4 1286.0,645.7" fill="none" stroke="#3b9562" stroke-width="1.7" stroke-linejoin="round"/><polyline points="493.1,624.5 508.1,628.2 523.0,629.5 538.0,631.7 552.9,631.7 567.9,637.3 582.9,638.8 597.8,639.8 612.8,640.4 627.7,641.0 642.7,641.6 657.7,642.0 672.6,642.0 687.6,632.6 702.5,632.0 717.5,631.7 732.5,630.1 747.4,629.5 762.4,624.2 777.3,622.3 792.3,621.7 807.3,619.2 822.2,597.0 837.2,575.5 852.1,572.7 867.1,578.0 882.1,587.7 897.0,588.9 912.0,592.3 926.9,592.0 941.9,597.6 956.9,598.3 971.8,598.9 986.8,597.0 1001.7,595.1 1016.7,596.1 1031.7,593.6 1046.6,592.7 1061.6,588.3 1076.5,559.6 1091.5,547.7 1106.5,536.2 1121.4,544.6 1136.4,530.2 1151.3,537.7 1166.3,536.5 1181.3,528.1 1196.2,529.9 1211.2,521.5 1226.1,524.6 1241.1,519.6 1256.1,532.7 1271.0,619.8 1286.0,623.5" fill="none" stroke="#8d2fe2" stroke-width="1.7" stroke-linejoin="round"/></svg>
<div class="t" style="left:521.30px;top:672px;font-size:12px;font-weight:700;color:#343a40;transform:scaleX(0.9774);transform-origin:0 0;">Week Of</div>
<div class="t" style="left:862.38px;top:672px;font-size:12.5px;color:#9b9b9b;letter-spacing:0.760px;">7/4/21</div>
<div class="t" style="left:1252.00px;top:672px;font-size:12.5px;color:#9b9b9b;letter-spacing:0.835px;">1/2/22</div>
<div class="t" style="left:507.5px;top:630.5px;font-size:12px;font-weight:700;color:#343a40;transform:translate(-50%,-50%) rotate(-90deg) scaleX(1.03);">Unit Sales</div>
<div class="b" style="left:508.00px;top:707.00px;width:92.00px;height:24.00px;border:1px solid #e3e3e3;border-radius:12px;background:#fff;"></div>
<div class="b" style="left:515.00px;top:714.00px;width:10.00px;height:10.00px;background:#3e9763;border-radius:50%;"></div>
<div class="t" style="left:528.77px;top:713px;font-size:12.5px;color:#343a40;letter-spacing:-0.005px;">Override All</div>
<div class="b" style="left:610.00px;top:707.00px;width:140.00px;height:24.00px;border:1px solid #e3e3e3;border-radius:12px;background:#fff;"></div>
<div class="b" style="left:617.00px;top:714.00px;width:10.00px;height:10.00px;background:#8f2fe0;border-radius:50%;"></div>
<div class="t" style="left:630.77px;top:713px;font-size:12.5px;color:#343a40;letter-spacing:-0.149px;">Override Only Prices</div>
</div></body></html>
